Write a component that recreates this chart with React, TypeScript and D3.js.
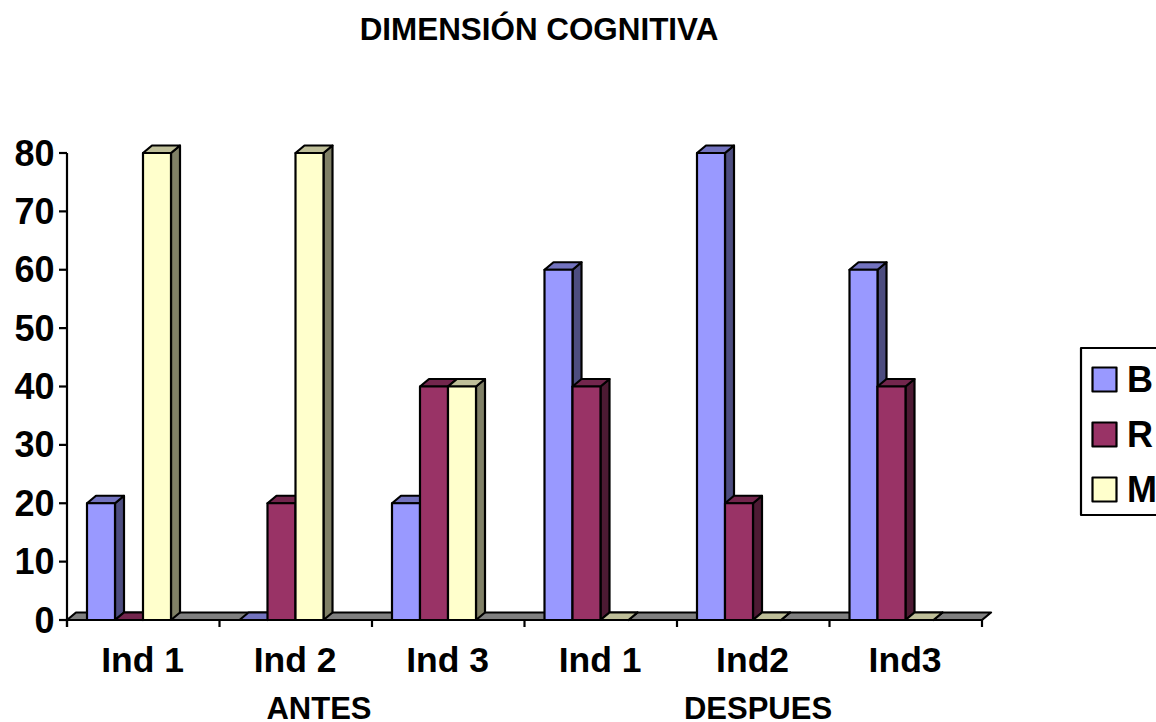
import React from "react";
import * as d3 from "d3";

const categories = ["Ind 1", "Ind 2", "Ind 3", "Ind 1", "Ind2", "Ind3"];
const seriesNames = ["B", "R", "M"];
const valuesB = [20, 0, 20, 60, 80, 60];
const valuesR = [0, 20, 40, 40, 20, 40];
const valuesM = [80, 80, 40, 0, 0, 0];
const yTicks = [0, 10, 20, 30, 40, 50, 60, 70, 80];
const groupLabels = [
  { text: "ANTES", x: 319 },
  { text: "DESPUES", x: 758 },
];
const fronts = ["#9999FF", "#993366", "#FFFFCC"];
const tops = ["#7373BF", "#73264D", "#BFBF99"];
const sides = ["#4D4D80", "#4D1A33", "#808066"];

const W = 1156, H = 722;
const x0 = 67, x1 = 982, y0 = 620, y1 = 153, dx = 9, dy = 7.5;
const barW = 28, lead = 20;
const FONT = "'Liberation Sans', Arial, sans-serif";

const x = d3.scaleBand<number>().domain(d3.range(categories.length)).range([x0, x1]).padding(0);
const y = d3.scaleLinear().domain([0, 80]).range([y0, y1]);
const pts = (p: number[][]) => p.map((q) => q.join(",")).join(" ");

export default function App() {
  const series = [valuesB, valuesR, valuesM];
  const stroke = { stroke: "#000", strokeWidth: 2.2, strokeLinejoin: "round" as const };
  return (
    <svg width={W} height={H} style={{ position: "absolute", left: 0, top: 0, background: "#fff" }}>
      <text x={539} y={40} textAnchor="middle" fontFamily={FONT} fontWeight="bold" fontSize={31.4}>DIMENSIÓN COGNITIVA</text>

      <polygon points={pts([[x0, y0], [x1, y0], [x1 + dx, y0 - dy], [x0 + dx, y0 - dy]])} fill="#808080" {...stroke} />
      <line x1={x0} x2={x0} y1={y1} y2={y0 + 7} {...stroke} />
      <line x1={x0} x2={x1} y1={y0} y2={y0} {...stroke} />
      {yTicks.map((t) => (
        <g key={t}>
          <line x1={x0 - 8} x2={x0} y1={y(t)} y2={y(t)} {...stroke} />
          <text x={54.5} y={y(t) + 12.5} textAnchor="end" fontFamily={FONT} fontWeight="bold" fontSize={36}>{t}</text>
        </g>
      ))}
      {d3.range(categories.length + 1).map((i) => {
        const tx = x0 + i * x.bandwidth();
        return <line key={i} x1={tx} x2={tx} y1={y0} y2={y0 + 7} {...stroke} />;
      })}

      {categories.map((c, i) => (
        <g key={i}>
          {series.map((vals, s) => {
            const left = (x(i) as number) + lead + s * barW;
            const right = left + barW;
            const top = y(vals[i]);
            return (
              <g key={s}>
                <polygon points={pts([[right, y0], [right + dx, y0 - dy], [right + dx, top - dy], [right, top]])} fill={sides[s]} {...stroke} />
                <polygon points={pts([[left, top], [left + dx, top - dy], [right + dx, top - dy], [right, top]])} fill={tops[s]} {...stroke} />
                {vals[i] > 0 && <rect x={left} y={top} width={barW} height={y0 - top} fill={fronts[s]} {...stroke} />}
              </g>
            );
          })}
          <text x={(x(i) as number) + 75.6} y={672} textAnchor="middle" fontFamily={FONT} fontWeight="bold" fontSize={35.5}>{c}</text>
        </g>
      ))}

      {groupLabels.map((g) => (
        <text key={g.text} x={g.x} y={719} textAnchor="middle" fontFamily={FONT} fontWeight="bold" fontSize={31}>{g.text}</text>
      ))}

      <rect x={1081} y={348} width={100} height={167} fill="#fff" {...stroke} />
      {seriesNames.map((n, s) => {
        const cy = 379.5 + s * 55;
        return (
          <g key={n}>
            <rect x={1092.5} y={cy - 12} width={24} height={24} fill={fronts[s]} {...stroke} />
            <text x={1127} y={cy + 12.5} fontFamily={FONT} fontWeight="bold" fontSize={36}>{n}</text>
          </g>
        );
      })}
    </svg>
  );
}
